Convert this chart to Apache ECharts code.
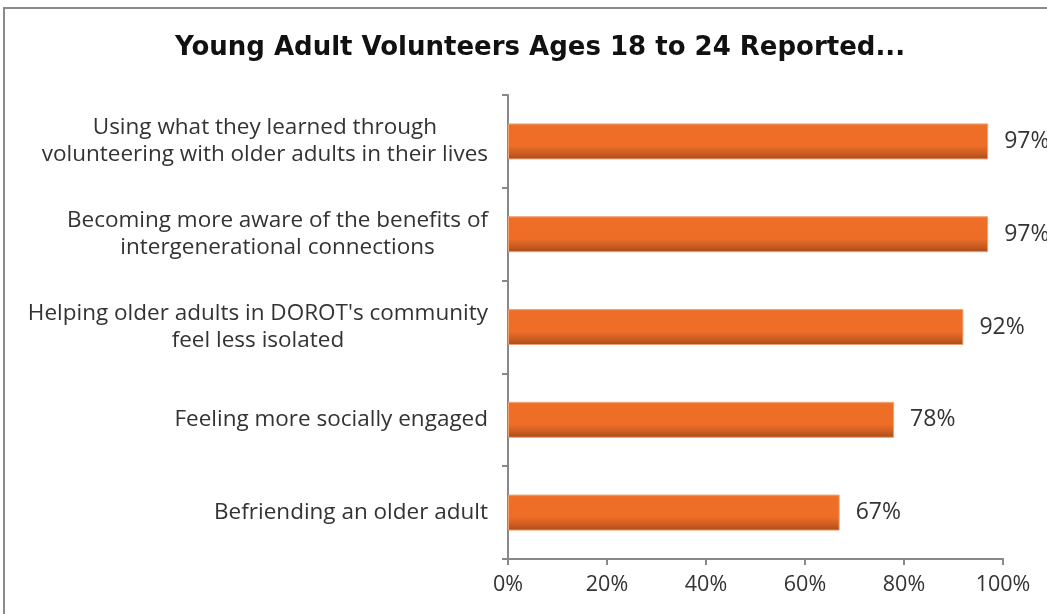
<!DOCTYPE html>
<html><head><meta charset="utf-8">
<script src="https://cdn.jsdelivr.net/npm/echarts@6/dist/echarts.min.js"></script>
<style>html,body{margin:0;padding:0;background:#fff}#c{width:1047px;height:614px}</style>
</head><body><div id="c"></div>
<script>
const categories = [
  "Using what they learned through\nvolunteering with older adults in their lives",
  "Becoming more aware of the benefits of\nintergenerational connections",
  "Helping older adults in DOROT's community\nfeel less isolated",
  "Feeling more socially engaged",
  "Befriending an older adult"
];
const values = [97, 97, 92, 78, 67];
const xTicks = [0, 20, 40, 60, 80, 100];
const title = "Young Adult Volunteers Ages 18 to 24 Reported...";

const chart = echarts.init(document.getElementById('c'), null, {renderer: 'canvas'});
chart.setOption({
  animation: false,
  backgroundColor: '#fff',
  title: {
    text: title, left: 535, top: 30, textAlign: 'center',
    textStyle: {fontFamily: 'DejaVu Sans', fontWeight: 'bold', fontSize: 26, color: '#111'}
  },
  graphic: [{
    type: 'rect', shape: {x: 4, y: 8, width: 1200, height: 700},
    style: {fill: 'none', stroke: '#8a8a8a', lineWidth: 2}, z: -1
  }],
  grid: {left: 508, right: 44, top: 95, bottom: 55},
  xAxis: {
    type: 'value', min: 0, max: 100, interval: 20,
    axisLine: {show: true, lineStyle: {color: '#888', width: 2}},
    axisTick: {show: true, length: 6, lineStyle: {color: '#888', width: 2}},
    splitLine: {show: false},
    axisLabel: {formatter: v => xTicks.includes(v) ? v + '%' : '', fontFamily: 'Open Sans', fontSize: 21.5, color: '#333', margin: 15}
  },
  yAxis: {
    type: 'category', data: categories, inverse: true,
    axisLine: {show: true, lineStyle: {color: '#888', width: 2}},
    axisTick: {show: true, length: 6, lineStyle: {color: '#888', width: 2}},
    axisLabel: {
      formatter: v => v.split('\n').map(s => '{c|' + s + '}').join('\n'),
      rich: {c: {align: 'center', fontFamily: 'Open Sans', fontSize: 22.5, color: '#333', lineHeight: 27}},
      margin: 20, align: 'right'
    }
  },
  series: [{
    type: 'bar', data: values, barWidth: 36,
    itemStyle: {
      color: new echarts.graphic.LinearGradient(0, 0, 0, 1, [
        {offset: 0, color: '#F3884E'},
        {offset: 0.06, color: '#EE6E28'},
        {offset: 0.62, color: '#EE6E28'},
        {offset: 0.85, color: '#C95B20'},
        {offset: 1, color: '#A34C1B'}
      ]),
      borderColor: '#F0A070', borderWidth: 1
    },
    label: {show: true, position: 'right', distance: 16, formatter: p => p.value + '%',
      fontFamily: 'Open Sans', fontSize: 23, color: '#333'}
  }]
});
</script></body></html>
